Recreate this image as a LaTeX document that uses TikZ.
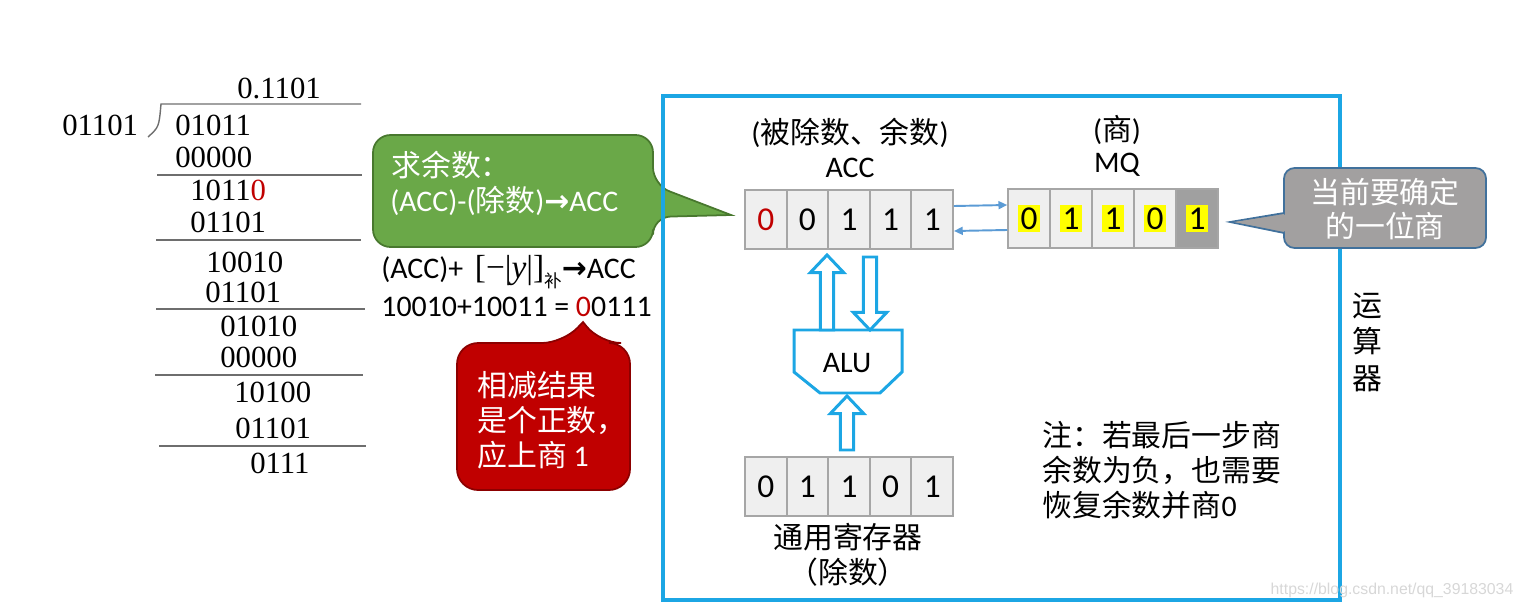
\documentclass[tikz,border=0pt]{standalone}
\usepackage{fontspec}
\setmainfont{Carlito}
\newfontfamily\cjk{Noto Sans CJK SC}
\newfontfamily\tnr{Liberation Serif}
\newfontfamily\dvs{DejaVu Sans}
\newfontfamily\wmfont{Liberation Sans}
\usetikzlibrary{arrows.meta,calc}

\definecolor{unitblue}{RGB}{28,166,228}
\definecolor{linkblue}{RGB}{91,155,213}
\definecolor{rulegray}{RGB}{110,110,110}
\definecolor{cellfill}{RGB}{239,239,239}
\definecolor{cellgray}{RGB}{166,166,166}
\definecolor{celldark}{RGB}{160,160,160}
\definecolor{hlyellow}{RGB}{255,255,0}
\definecolor{digred}{RGB}{192,0,0}
\definecolor{greenfill}{RGB}{106,168,72}
\definecolor{greenedge}{RGB}{72,120,46}
\definecolor{redfill}{RGB}{192,0,0}
\definecolor{rededge}{RGB}{140,0,0}
\definecolor{grayfill}{RGB}{162,160,160}
\definecolor{grayedge}{RGB}{65,113,156}
\definecolor{wmgray}{RGB}{215,215,215}

\newcommand{\zhs}[1]{{\cjk #1}}
\newcommand{\rarr}{{\dvs\bfseries →}}
\newcommand{\hl}[1]{{\setlength{\fboxsep}{1.5pt}\colorbox{hlyellow}{#1}}}
% hollow block arrow, vertical, from #1 to #2
\newcommand{\blockarrow}[2]{%
  \draw[block] let \p1=(#1), \p2=(#2), \n1={(\y2>\y1)*2-1} in
    (\x1-3.8pt,\y1) -- (\x1-3.8pt,\y2-\n1*10pt) -- (\x1-9.5pt,\y2-\n1*10pt) -- (\x2,\y2)
    -- (\x1+9.5pt,\y2-\n1*10pt) -- (\x1+3.8pt,\y2-\n1*10pt) -- (\x1+3.8pt,\y1) -- cycle;}

\begin{document}
\begin{tikzpicture}[x=0.02cm, y=-0.02cm,
  every node/.style={inner sep=0pt, font=\fontsize{17}{19.8}\selectfont},
  divnum/.style={anchor=west, font=\tnr\fontsize{17.5}{20}\selectfont},
  rule/.style={draw=rulegray, line width=0.8pt},
  cell/.style={draw=cellgray, line width=1.1pt, fill=cellfill, minimum width=0.832cm,
    minimum height=1.18cm, font=\fontsize{19}{22}\selectfont},
  lastcell/.style={cell, fill=celldark},
  link/.style={draw=linkblue, line width=1.1pt, -{Triangle[length=5pt,width=4.5pt]}},
  block/.style={draw=unitblue, line width=1.7pt, fill=white},
  calltext/.style={text=white, align=left}]
\useasboundingbox (0,0) rectangle (1523,608);

% long division
\node[divnum] (quot) at (237,88) {0.1101};
\node[divnum] (divisor) at (62,125) {01101};
\draw[rule] (148,137) .. controls (159,127) .. (161,104) -- (361,104);
\node[divnum] (r1) at (175,125) {01011};
\node[divnum] (s1) at (175,157) {00000};
\draw[rule] (157,175) -- (362,175);
\node[divnum] (r2) at (190,190) {1011\textcolor{digred}{0}};
\node[divnum] (s2) at (190,222) {01101};
\draw[rule] (156,240) -- (361,240);
\node[divnum] (r3) at (206,262) {10010};
\node[divnum] (s3) at (205,292) {01101};
\draw[rule] (156,309) -- (365,309);
\node[divnum] (r4) at (220,326) {01010};
\node[divnum] (s4) at (220,357) {00000};
\draw[rule] (155,375) -- (363,375);
\node[divnum] (r5) at (234,392) {10100};
\node[divnum] (s5) at (235,428) {01101};
\draw[rule] (159,446) -- (366,446);
\node[divnum] (rem) at (250,463) {0111};

% green callout
\draw[fill=greenfill, draw=greenedge, line width=1pt] (500,135) [rounded corners=10pt]
  -- (653,135) -- (653,185) [sharp corners] -- (731,215) [rounded corners=10pt]
  -- (653,217) -- (653,247) -- (373,247) -- (373,135) -- cycle;
\node[calltext, anchor=west] (gline1) at (391,165) {\zhs{求余数：}};
\node[calltext, anchor=west] (gline2) at (390,201) {(ACC)-(\zhs{除数})\rarr ACC};

\node[anchor=west] (step1) at (381,272) {(ACC)+\, {\tnr\fontsize{19}{20}\selectfont [−|\textit{y}|]}\raisebox{-0.3em}{\fontsize{10}{10}\selectfont\zhs{补}}\rarr ACC};
\node[anchor=west] (step2) at (381,307) {10010+10011 = \textcolor{digred}{0}0111};

% red callout
\draw[fill=redfill, draw=rededge, line width=1pt] (457,420) [rounded corners=12pt]
  -- (457,343) -- (563,343) [sharp corners] -- (583,322) [rounded corners=12pt]
  -- (600,343) -- (630,343) -- (630,490) -- (457,490) -- cycle;
\node[calltext, anchor=west] (rline) at (477,420) {\zhs{相减结果}\\\zhs{是个正数，}\\\zhs{应上商} 1};

% arithmetic unit
\draw[unitblue, line width=2pt] (663,96) rectangle (1340,600);
\node[align=center] (unit) at (1367,342) {\zhs{运}\\[1pt]\zhs{算}\\[1pt]\zhs{器}};

\node (accnote) at (850,133) {(\zhs{被除数、余数})};
\node (accname) at (850,168) {ACC};
\node (mqnote) at (1117,130) {(\zhs{商})};
\node (mqname) at (1117,165) {MQ};

\foreach \d [count=\i] in {\textcolor{digred}{0},0,1,1,1}
  \node[cell] (acc\i) at (724.2+41.6*\i,219.5) {\d};
\foreach \d/\s [count=\i] in {0/cell,1/cell,1/cell,0/cell,1/lastcell}
  \node[\s] (mq\i) at (987+42*\i,218.5) {\hl{\d}};
\foreach \d [count=\i] in {0,1,1,0,1}
  \node[cell] (gr\i) at (724.2+41.6*\i,486.5) {\d};

\draw[link] ([yshift=0.27cm]acc5.east) -- ([yshift=0.27cm]mq1.west);
\draw[link] ([yshift=-0.23cm]mq1.west) -- ([yshift=-0.23cm]acc5.east);

% gray callout
\draw[fill=grayfill, draw=grayedge, line width=1pt, rounded corners=6pt] (1284,168) rectangle (1486,248);
\draw[fill=grayfill, draw=grayedge, line width=1pt] (1284,213) -- (1230,222) -- (1284,233);
\fill[grayfill] (1286,214.5) -- (1234,222) -- (1286,231.5) -- cycle;
\node[calltext, align=center] (cur) at (1385,209) {\zhs{当前要确定}\\\zhs{的一位商}};

% ALU
\draw[draw=unitblue, line width=1.7pt, fill=white] (794,330) -- (902,330) -- (902,372)
  -- (880,393) -- (820,393) -- (794,372) -- cycle;
\node (alu) at (847,363) {ALU};
\coordinate (aluUp) at (827,330);
\coordinate (accIn) at (827,255);
\coordinate (accOut) at (870,257);
\coordinate (aluIn) at (870,330);
\coordinate (grOut) at (847,450);
\coordinate (aluBot) at (847,396);
\blockarrow{aluUp}{accIn}
\blockarrow{accOut}{aluIn}
\blockarrow{grOut}{aluBot}

\node[align=center] (grname) at (848,555) {\zhs{通用寄存器}\\\zhs{（除数）}};

\node[anchor=west, align=left] (note) at (1042,470) {\zhs{注：若最后一步商}\\\zhs{余数为负，也需要}\\\zhs{恢复余数并商}0};

\node[text=wmgray, font=\wmfont\fontsize{9}{10}\selectfont] (mark) at (1392,590) {https://blog.csdn.net/qq\_39183034};
\end{tikzpicture}
\end{document}
